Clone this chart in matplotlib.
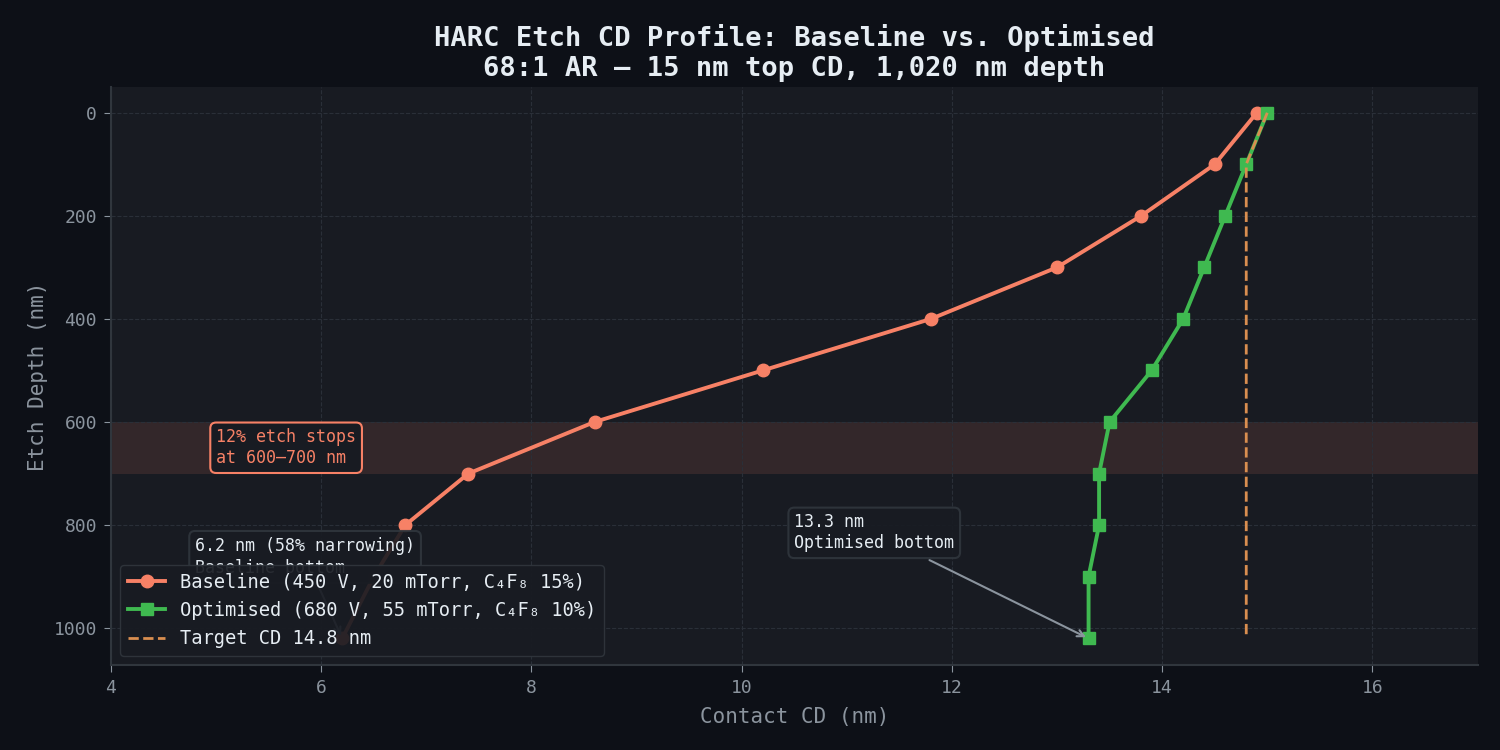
import matplotlib.pyplot as plt

plt.rcParams['font.family'] = ['DejaVu Sans Mono', 'DejaVu Sans']

depth = [0, 100, 200, 300, 400, 500, 600, 700, 800, 900, 1020]
baseline_cd = [14.9, 14.5, 13.8, 13.0, 11.8, 10.2, 8.6, 7.4, 6.8, 6.5, 6.2]
optimised_cd = [15.0, 14.8, 14.6, 14.4, 14.2, 13.9, 13.5, 13.4, 13.4, 13.3, 13.3]
target_cd = [15.0, 14.8, 14.8, 14.8, 14.8, 14.8, 14.8, 14.8, 14.8, 14.8, 14.8]

fig_bg = '#0d1017'
ax_bg = '#181b22'
c_base = '#f78166'
c_opt = '#3fb950'
c_target = '#d98e50'
c_text = '#e6edf3'
c_muted = '#8b949e'
c_spine = '#30363d'

fig, ax = plt.subplots(figsize=(15, 7.5), dpi=100)
fig.patch.set_facecolor(fig_bg)
ax.set_facecolor(ax_bg)

ax.axhspan(600, 700, color=c_base, alpha=0.12, lw=0, zorder=0)

ax.plot(baseline_cd, depth, color=c_base, lw=2.8, marker='o', ms=9,
        label='Baseline (450 V, 20 mTorr, C₄F₈ 15%)', zorder=3)
ax.plot(optimised_cd, depth, color=c_opt, lw=2.8, marker='s', ms=9,
        label='Optimised (680 V, 55 mTorr, C₄F₈ 10%)', zorder=3)
ax.plot(target_cd, depth, color=c_target, lw=2, ls='--',
        label='Target CD 14.8 nm', zorder=4)

box = dict(boxstyle='round,pad=0.35', fc=ax_bg, ec=c_spine, lw=1.5, alpha=0.9)
ax.annotate('6.2 nm (58% narrowing)\nBaseline bottom', xy=(6.2, 1020),
            xytext=(4.8, 893), color=c_text, fontsize=12, bbox=box,
            linespacing=1.3,
            arrowprops=dict(arrowstyle='->', color=c_muted, lw=1.5), zorder=5)
ax.annotate('13.3 nm\nOptimised bottom', xy=(13.3, 1020),
            xytext=(10.5, 845), color=c_text, fontsize=12, bbox=box,
            arrowprops=dict(arrowstyle='->', color=c_muted, lw=1.5), zorder=5)
ax.text(5.0, 650, '12% etch stops\nat 600–700 nm', color=c_base, fontsize=12,
        va='center', bbox=dict(boxstyle='round,pad=0.35', fc=ax_bg, ec=c_base, lw=1.5),
        zorder=5)

ax.set_xlim(4, 17)
ax.set_ylim(1072, -50)
ax.set_xlabel('Contact CD (nm)', color=c_muted, fontsize=15, labelpad=7)
ax.set_ylabel('Etch Depth (nm)', color=c_muted, fontsize=15)
ax.set_title('HARC Etch CD Profile: Baseline vs. Optimised\n68:1 AR — 15 nm top CD, 1,020 nm depth',
             color=c_text, fontsize=19.5, fontweight='bold', pad=8)

ax.grid(True, color='#2a2f38', ls='--', lw=0.8)
ax.tick_params(colors=c_muted, labelsize=13, length=5, pad=5)
for s in ['top', 'right']:
    ax.spines[s].set_visible(False)
for s in ['left', 'bottom']:
    ax.spines[s].set_color(c_spine)
    ax.spines[s].set_linewidth(1.5)

leg = ax.legend(loc='lower left', fontsize=13.5, facecolor=ax_bg, edgecolor=c_spine,
                framealpha=0.92, borderpad=0.4)
leg.set_zorder(6)
for t in leg.get_texts():
    t.set_color(c_text)

plt.subplots_adjust(left=0.074, right=0.985, top=0.884, bottom=0.113)
plt.savefig('out.png', dpi=100, facecolor=fig_bg)
